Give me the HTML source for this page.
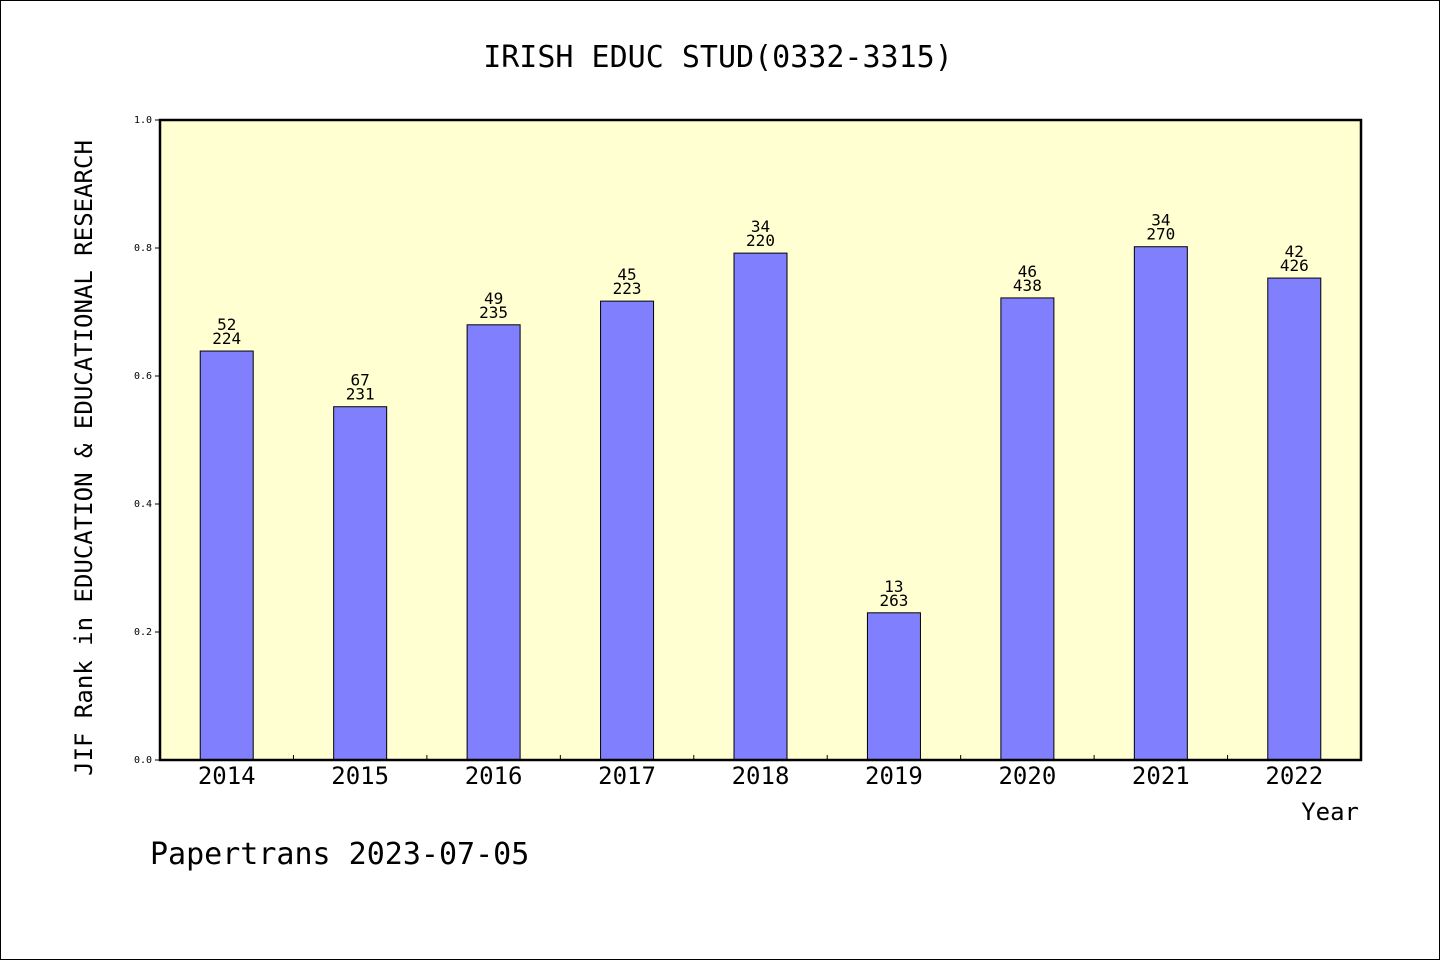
<!DOCTYPE html>
<html><head><meta charset="utf-8"><style>
html,body{margin:0;padding:0;background:#fff}
svg text{font-family:"DejaVu Sans Mono","Liberation Mono",monospace;fill:#000}
</style></head><body>
<svg id="chart" width="1440" height="960" xmlns="http://www.w3.org/2000/svg">
<rect x="0.5" y="0.5" width="1439" height="959" fill="#fff" stroke="#000" stroke-width="1"/>
<text x="718" y="67" font-size="30" text-anchor="middle">IRISH EDUC STUD(0332-3315)</text>
<rect x="160" y="120" width="1201" height="640" fill="#ffffd2"/>
<g id="bars"></g>
<g id="axes"></g>
<rect x="160" y="120" width="1201" height="640" fill="none" stroke="#000" stroke-width="2.5"/>
<text transform="translate(92,458) rotate(-90)" font-size="24" text-anchor="middle">JIF Rank in EDUCATION &amp; EDUCATIONAL RESEARCH</text>
<text x="1359" y="820" font-size="24" text-anchor="end">Year</text>
<text x="150" y="864" font-size="30">Papertrans 2023-07-05</text>
</svg>
<script>
const categories=["2014","2015","2016","2017","2018","2019","2020","2021","2022"];
const values=[0.639,0.552,0.680,0.717,0.792,0.230,0.722,0.802,0.753];
const ranks=["52","67","49","45","34","13","46","34","42"];
const totals=["224","231","235","223","220","263","438","270","426"];
const yTicks=["0.0","0.2","0.4","0.6","0.8","1.0"];
const NS="http://www.w3.org/2000/svg";
const X0=160,X1=1361,Y0=760,Y1=120;
const band=(X1-X0)/categories.length;
const xc=i=>X0+band*(i+0.5);
const y=v=>Y0-(v-0)/(1-0)*(Y0-Y1);
const bars=document.getElementById('bars'),axes=document.getElementById('axes');
function mk(t,a,p){const e=document.createElementNS(NS,t);for(const k in a)e.setAttribute(k,a[k]);p.appendChild(e);return e;}
categories.forEach((c,i)=>{
  const bw=53;
  const r=mk('rect',{x:xc(i)-bw/2,y:y(values[i]),width:bw,height:Y0-y(values[i]),fill:'#8080ff',stroke:'#000','stroke-width':1},bars);
  
  
  const t1=mk('text',{x:xc(i),y:y(values[i])-21,'font-size':16,'text-anchor':'middle'},bars);t1.textContent=ranks[i];
  
  
  const t2=mk('text',{x:xc(i),y:y(values[i])-7,'font-size':16,'text-anchor':'middle'},bars);t2.textContent=totals[i];
  
  
  const xl=mk('text',{x:xc(i),y:784,'font-size':24,'text-anchor':'middle'},axes);xl.textContent=c;
  
  
  if(i>0){const tk=mk('line',{x1:X0+band*i,x2:X0+band*i,y1:Y0,y2:Y0-5,stroke:'#000'},axes);
  
  }
});
yTicks.forEach(s=>{
  const v=parseFloat(s);
  const tk=mk('line',{x1:X0-5,x2:X0,y1:y(v),y2:y(v),stroke:'#000'},axes);
  
  
  const tl=mk('text',{x:X0-8,y:y(v)+3,'font-size':10,'text-anchor':'end'},axes);tl.textContent=s;
  
  
});
</script>
</body></html>
